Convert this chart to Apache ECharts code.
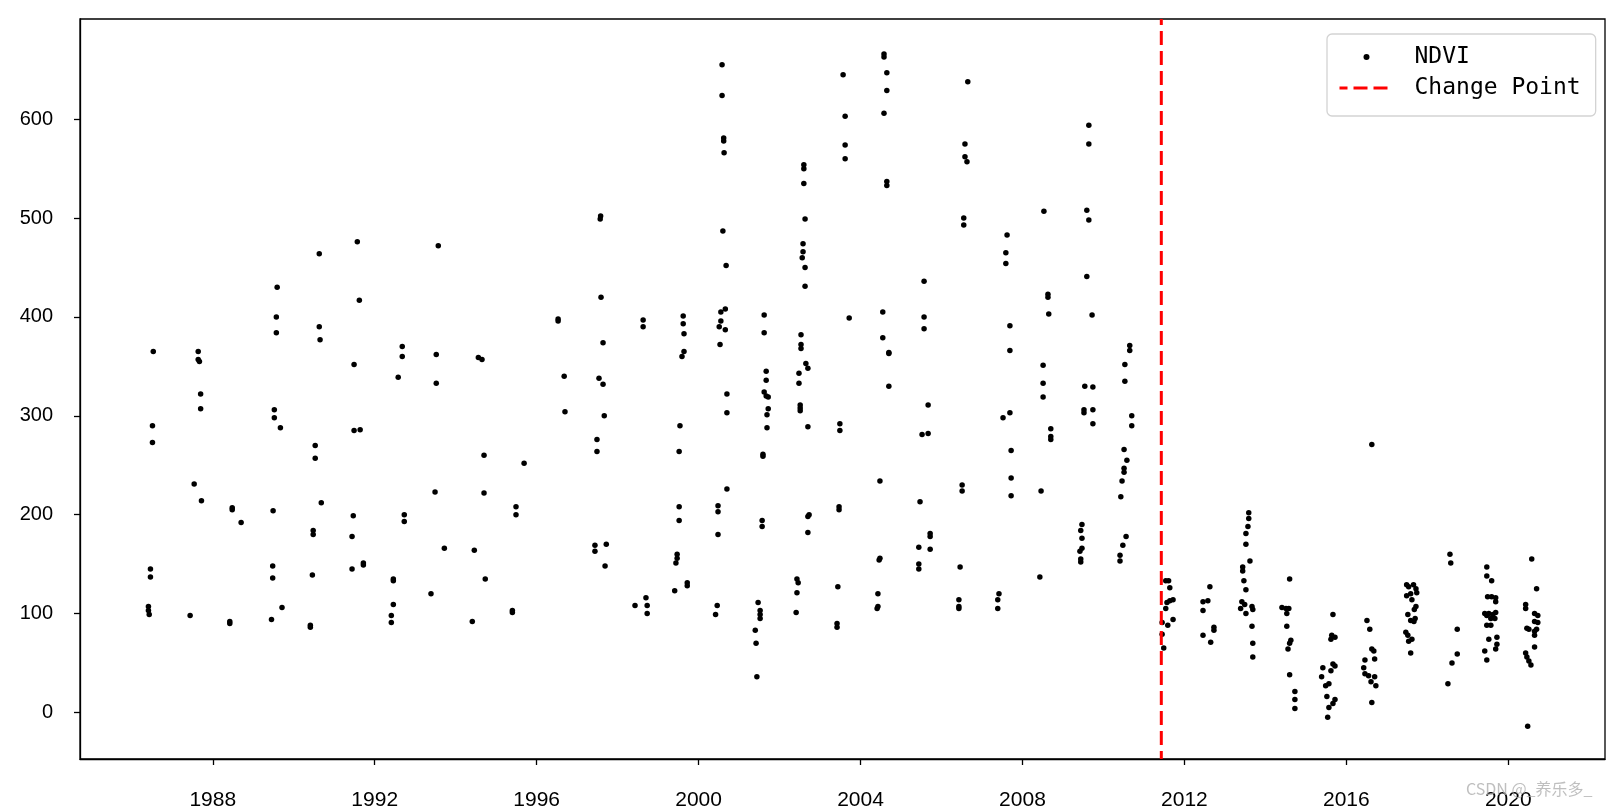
<!DOCTYPE html>
<html>
<head>
<meta charset="utf-8">
<script src="https://cdn.jsdelivr.net/npm/echarts@6/dist/echarts.min.js"></script>
<style>html,body{margin:0;padding:0;background:#fff}#c{width:1621px;height:810px}</style>
</head>
<body>
<div id="c"></div>
<script>
// Decimal acquisition dates (years) and NDVI values
const years = [
1986.53,1986.51,1986.51,1986.46,1986.46,1986.41,1986.41,1986.43,
1987.64,1987.64,1987.67,1987.70,1987.70,1987.54,1987.72,1987.44,
1988.48,1988.48,1988.70,1988.42,1988.42,
1989.59,1989.57,1989.57,1989.52,1989.52,1989.67,1989.49,1989.48,1989.48,1989.45,1989.71,
1990.63,1990.63,1990.65,1990.53,1990.53,1990.68,1990.48,1990.48,1990.46,1990.41,1990.41,
1991.57,1991.62,1991.49,1991.49,1991.64,1991.47,1991.44,1991.44,1991.72,1991.72,
1992.68,1992.68,1992.58,1992.73,1992.73,1992.46,1992.46,1992.46,1992.41,1992.41,
1993.57,1993.52,1993.52,1993.49,1993.72,1993.39,
1994.41,1994.56,1994.65,1994.70,1994.70,1994.46,1994.73,
1995.40,1995.40,1995.69,1995.49,1995.49,
1996.53,1996.53,1996.68,1996.70,
1997.58,1997.57,1997.59,1997.64,1997.54,1997.64,1997.67,1997.49,1997.49,1997.44,1997.44,1997.72,1997.69,
1998.63,1998.63,1998.43,1998.70,1998.73,1998.73,
1999.62,1999.62,1999.64,1999.64,1999.59,1999.54,1999.52,1999.52,1999.52,1999.47,1999.47,1999.44,1999.41,1999.72,1999.72,
2000.58,2000.58,2000.62,2000.62,2000.63,2000.60,2000.68,2000.66,2000.55,2000.55,2000.51,2000.66,2000.53,2000.70,2000.70,2000.70,2000.48,2000.48,2000.48,2000.46,2000.42,
2001.62,2001.62,2001.67,2001.67,2001.62,2001.67,2001.72,2001.72,2001.69,2001.69,2001.59,2001.59,2001.57,2001.57,2001.47,2001.52,2001.52,2001.52,2001.40,2001.42,2001.44,
2002.60,2002.60,2002.60,2002.63,2002.58,2002.58,2002.56,2002.63,2002.63,2002.53,2002.53,2002.53,2002.65,2002.70,2002.48,2002.48,2002.51,2002.51,2002.51,2002.70,2002.73,2002.70,2002.70,2002.43,2002.46,2002.43,2002.41,
2003.49,2003.49,2003.47,2003.47,2003.44,2003.42,2003.42,2003.57,2003.62,2003.62,2003.62,2003.72,
2004.58,2004.58,2004.65,2004.65,2004.58,2004.65,2004.65,2004.55,2004.55,2004.70,2004.70,2004.70,2004.48,2004.48,2004.46,2004.43,2004.43,2004.41,
2005.57,2005.57,2005.57,2005.67,2005.52,2005.67,2005.47,2005.72,2005.72,2005.72,2005.44,2005.44,2005.44,
2006.65,2006.58,2006.58,2006.63,2006.55,2006.55,2006.51,2006.51,2006.46,2006.43,2006.43,2006.43,
2007.62,2007.59,2007.59,2007.69,2007.69,2007.69,2007.52,2007.72,2007.72,2007.72,2007.42,2007.39,2007.39,
2008.46,2008.43,2008.53,2008.63,2008.63,2008.65,2008.51,2008.51,2008.51,2008.70,2008.70,2008.70,
2009.64,2009.64,2009.59,2009.64,2009.59,2009.72,2009.54,2009.74,2009.52,2009.52,2009.74,2009.74,2009.47,2009.44,2009.47,2009.47,2009.42,2009.44,2009.44,
2010.65,2010.65,2010.53,2010.53,2010.70,2010.70,2010.51,2010.58,2010.51,2010.51,2010.46,2010.43,2010.56,2010.48,2010.41,2010.41,
2011.54,2011.61,2011.64,2011.72,2011.64,2011.57,2011.54,2011.45,2011.72,2011.59,2011.45,2011.49,
2012.63,2012.46,2012.58,2012.46,2012.73,2012.73,2012.46,2012.65,
2013.59,2013.59,2013.57,2013.52,2013.52,2013.62,2013.44,2013.44,2013.47,2013.52,2013.42,2013.49,2013.39,2013.52,2013.67,2013.69,2013.67,2013.69,2013.69,
2014.60,2014.41,2014.51,2014.58,2014.53,2014.53,2014.63,2014.60,2014.56,2014.60,2014.73,2014.73,2014.73,
2015.67,2015.64,2015.72,2015.62,2015.42,2015.67,2015.72,2015.39,2015.62,2015.57,2015.49,2015.52,2015.72,2015.67,2015.57,2015.54,
2016.63,2016.51,2016.58,2016.63,2016.68,2016.46,2016.70,2016.43,2016.46,2016.55,2016.70,2016.61,2016.73,2016.63,
2017.49,2017.54,2017.72,2017.59,2017.49,2017.62,2017.72,2017.52,2017.59,2017.67,2017.47,2017.52,2017.54,2017.59,2017.66,2017.74,2017.68,2017.70,2017.62,
2018.56,2018.58,2018.74,2018.74,2018.61,2018.51,
2019.47,2019.47,2019.59,2019.49,2019.59,2019.69,2019.69,2019.42,2019.52,2019.62,2019.69,2019.47,2019.57,2019.67,2019.47,2019.57,2019.52,2019.72,2019.72,2019.42,2019.69,2019.47,
2020.58,2020.70,2020.43,2020.43,2020.65,2020.73,2020.65,2020.73,2020.46,2020.51,2020.65,2020.70,2020.65,2020.65,2020.43,2020.46,2020.51,2020.56,2020.48
];
const ndvi = [
365,290,273,145,137,107,103,99,
365,357,355,322,307,231,214,98,
207,205,192,90,92,
430,400,384,306,298,288,204,148,136,94,106,
464,390,377,270,257,212,184,180,139,88,86,
476,417,352,285,286,199,178,145,151,149,
370,360,339,200,193,135,133,109,98,91,
472,362,333,223,166,120,
92,359,357,260,222,164,135,
103,101,252,208,200,
398,396,340,304,
502,499,420,374,338,332,300,276,264,169,163,170,148,
397,390,108,116,108,100,
401,393,383,365,360,290,264,208,194,160,156,151,123,131,128,
655,624,581,578,566,487,452,408,405,396,390,387,372,322,303,226,209,203,180,108,99,
402,384,345,336,324,320,319,307,301,288,261,259,194,188,111,103,99,95,83,70,36,
554,550,535,499,474,466,460,450,431,382,372,368,353,348,343,333,311,308,305,289,200,198,182,135,131,121,101,
292,285,208,205,127,90,86,645,603,574,560,399,
666,663,647,629,606,537,533,405,379,364,363,330,234,156,154,120,107,105,
436,400,388,311,281,282,213,181,178,165,167,150,145,
638,575,562,557,500,493,230,224,147,114,107,105,
483,465,454,391,366,303,298,265,237,219,120,114,105,
224,137,507,423,420,403,351,333,319,287,279,276,
594,575,508,498,441,402,330,329,306,303,306,292,190,184,176,166,163,155,152,
371,366,352,335,300,290,266,255,247,243,234,218,178,169,159,153,
133,133,126,114,113,111,105,91,94,88,79,65,
127,112,113,103,86,83,78,71,
202,196,188,181,170,153,147,143,133,124,112,109,105,100,107,104,87,70,56,
135,106,105,105,100,87,73,70,64,38,21,13,4,
99,78,76,74,45,49,47,36,42,29,27,16,13,9,5,-5,
271,93,84,64,62,53,54,45,39,37,36,31,27,10,
129,127,125,120,118,114,107,99,93,92,81,78,72,60,129,121,104,95,74,
160,151,84,59,50,29,
147,138,133,117,117,116,112,100,100,99,101,98,95,95,88,88,74,76,69,62,64,53,
155,125,109,105,100,98,92,91,85,84,82,84,78,66,60,56,52,48,-14
];
const changePoint = 2011.43;
const xTicks = [1988,1992,1996,2000,2004,2008,2012,2016,2020];
const yTicks = [0,100,200,300,400,500,600];
const xRange = [1984.72, 2022.39];
const yRange = [-47.2, 701.4];
const legendNames = ['NDVI', 'Change Point'];
const watermark = 'CSDN @_养乐多_';

const points = years.map((y, i) => [y, ndvi[i]]);
const chart = echarts.init(document.getElementById('c'), null, {renderer: 'canvas'});
const axisCommon = {
  axisLine: {show: true, onZero: false, lineStyle: {color: '#000', width: 1.3}},
  axisTick: {show: true, inside: false, length: 6, lineStyle: {color: '#000', width: 1.3}},
  splitLine: {show: false}
};
chart.setOption({
  animation: false,
  backgroundColor: '#fff',
  grid: {left: 80, right: 16, top: 19, bottom: 51, show: true, borderColor: '#000', borderWidth: 1.3, containLabel: false, outerBoundsMode: 'none'},
  xAxis: Object.assign({}, axisCommon, {
    type: 'value', min: xRange[0], max: xRange[1],
    axisTick: Object.assign({}, axisCommon.axisTick, {customValues: xTicks}),
    axisLabel: {customValues: xTicks, color: '#000', fontSize: 21, margin: 31, fontFamily: "'Liberation Sans Narrow','Liberation Sans',sans-serif", formatter: v => String(v)}
  }),
  yAxis: Object.assign({}, axisCommon, {
    type: 'value', min: yRange[0], max: yRange[1],
    axisTick: Object.assign({}, axisCommon.axisTick, {customValues: yTicks}),
    axisLabel: {customValues: yTicks, color: '#000', fontSize: 20, margin: 27, fontFamily: "'Liberation Sans',sans-serif"}
  }),
  legend: {
    orient: 'vertical', left: 1327, top: 34,
    data: [{name: legendNames[0], icon: 'circle'}, {name: legendNames[1], itemStyle: {opacity: 0}, lineStyle: {width: 3}}],
    itemWidth: 54, itemHeight: 6, itemGap: 7,
    padding: [11, 15, 16, 11],
    borderColor: '#d3d3d3', borderWidth: 1.3, borderRadius: 5,
    backgroundColor: 'rgba(255,255,255,0.8)',
    textStyle: {fontFamily: "'DejaVu Sans Mono',monospace", fontSize: 23, lineHeight: 24, color: '#000', padding: [0, 0, 0, 16]}
  },
  series: [
    {name: legendNames[0], type: 'scatter', data: points, symbol: 'circle', symbolSize: 5.5, itemStyle: {color: '#000', opacity: 1}, z: 2},
    {name: legendNames[1], type: 'line', data: [[changePoint, yRange[0]], [changePoint, yRange[1]]], symbol: 'none',
     lineStyle: {color: '#ff0000', width: 3, type: [14, 6], dashOffset: 6}, itemStyle: {color: '#ff0000'}, z: 3}
  ],
  graphic: [{type: 'text', left: 1466, top: 781, style: {text: watermark, fill: 'rgba(170,170,170,0.75)', font: "16px 'Noto Sans CJK SC', sans-serif"}, z: 100}]
});
</script>
</body>
</html>
